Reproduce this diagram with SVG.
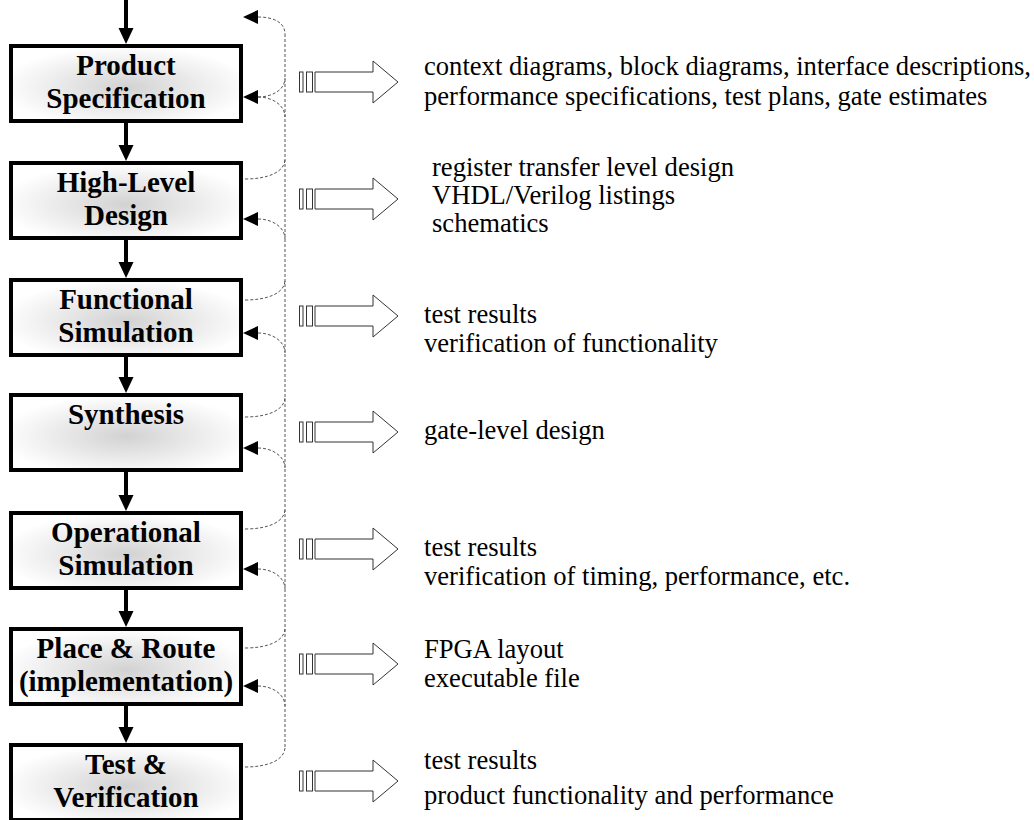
<svg xmlns="http://www.w3.org/2000/svg" width="1034" height="820" viewBox="0 0 1034 820">
<style>
.box{stroke:#000;stroke-width:4;fill:url(#shade)}
.lbl{font-family:"Liberation Serif","Times New Roman",serif;font-weight:bold;font-size:29px;text-anchor:middle;fill:#000}
.desc{font-family:"Liberation Serif","Times New Roman",serif;font-size:26.6px;fill:#000}
.flow{stroke:#000;stroke-width:4;fill:none}
.head{fill:#000}
.fb{stroke:#555;stroke-width:1;stroke-dasharray:3 2;fill:none}
.hollow{stroke:#333;stroke-width:1;fill:#fff}
</style>
<defs>
<radialGradient id="shade" cx="0.5" cy="0.55" r="0.55">
<stop offset="0" stop-color="#d2d2d2"/>
<stop offset="0.45" stop-color="#e6e6e6"/>
<stop offset="1" stop-color="#ffffff"/>
</radialGradient>
<g id="bigArrow">
<rect class="hollow" x="299.5" y="-10" width="3.5" height="20"/>
<rect class="hollow" x="306.5" y="-10" width="6" height="20"/>
<path class="hollow" d="M315,-10 H373 V-21 L398,0 L373,21 V10 H315 Z"/>
</g>
</defs>
<rect width="1034" height="820" fill="#fff"/>

<g id="connectors">
<line class="flow" x1="126" y1="0" x2="126" y2="32"/>
<polygon class="head" points="118.5,28 133.5,28 126,44"/>
<line class="flow" x1="126" y1="123" x2="126" y2="149"/>
<polygon class="head" points="118.5,145 133.5,145 126,161"/>
<line class="flow" x1="126" y1="240" x2="126" y2="266"/>
<polygon class="head" points="118.5,262 133.5,262 126,278"/>
<line class="flow" x1="126" y1="357" x2="126" y2="381"/>
<polygon class="head" points="118.5,377 133.5,377 126,393"/>
<line class="flow" x1="126" y1="472" x2="126" y2="499"/>
<polygon class="head" points="118.5,495 133.5,495 126,511"/>
<line class="flow" x1="126" y1="590" x2="126" y2="615"/>
<polygon class="head" points="118.5,611 133.5,611 126,627"/>
<line class="flow" x1="126" y1="706" x2="126" y2="731"/>
<polygon class="head" points="118.5,727 133.5,727 126,743"/>

<path class="fb" d="M285,34 V747"/>
<path class="fb" d="M258,17 C273,17 285,22 285,34"/>
<path class="fb" d="M258,97 C272,97 285,90 285,78"/>
<path class="fb" d="M258,97 C272,97 285,105 285,117"/>
<path class="fb" d="M245,179 C268,179 285,172 285,159"/>
<path class="fb" d="M258,219 C272,219 285,227 285,239"/>
<path class="fb" d="M245,300 C268,300 285,293 285,280"/>
<path class="fb" d="M258,333 C272,333 285,341 285,353"/>
<path class="fb" d="M245,417 C268,417 285,410 285,397"/>
<path class="fb" d="M258,448 C272,448 285,456 285,468"/>
<path class="fb" d="M245,529 C268,529 285,522 285,509"/>
<path class="fb" d="M258,569 C272,569 285,577 285,589"/>
<path class="fb" d="M245,648 C268,648 285,641 285,628"/>
<path class="fb" d="M258,686 C272,686 285,694 285,706"/>
<path class="fb" d="M245,767 C268,767 285,760 285,747"/>
<polygon class="head" points="243,17 258,10 258,24"/>
<polygon class="head" points="243,97 258,90 258,104"/>
<polygon class="head" points="243,219 258,212 258,226"/>
<polygon class="head" points="243,333 258,326 258,340"/>
<polygon class="head" points="243,448 258,441 258,455"/>
<polygon class="head" points="243,569 258,562 258,576"/>
<polygon class="head" points="243,686 258,679 258,693"/>

<use href="#bigArrow" y="82"/>
<use href="#bigArrow" y="199"/>
<use href="#bigArrow" y="316"/>
<use href="#bigArrow" y="432"/>
<use href="#bigArrow" y="549"/>
<use href="#bigArrow" y="664"/>
<use href="#bigArrow" y="781"/>
</g>

<g id="node-product-spec">
<rect class="box" x="11" y="46" width="230" height="75"/>
<text class="lbl" x="126" y="75">Product</text>
<text class="lbl" x="126" y="108">Specification</text>
</g>
<g id="node-high-level-design">
<rect class="box" x="11" y="163" width="230" height="75"/>
<text class="lbl" x="126" y="192">High-Level</text>
<text class="lbl" x="126" y="225">Design</text>
</g>
<g id="node-functional-simulation">
<rect class="box" x="11" y="280" width="230" height="75"/>
<text class="lbl" x="126" y="309">Functional</text>
<text class="lbl" x="126" y="342">Simulation</text>
</g>
<g id="node-synthesis">
<rect class="box" x="11" y="395" width="230" height="75"/>
<text class="lbl" x="126" y="424">Synthesis</text>
</g>
<g id="node-operational-simulation">
<rect class="box" x="11" y="513" width="230" height="75"/>
<text class="lbl" x="126" y="542">Operational</text>
<text class="lbl" x="126" y="575">Simulation</text>
</g>
<g id="node-place-route">
<rect class="box" x="11" y="629" width="230" height="75"/>
<text class="lbl" x="126" y="658">Place &amp; Route</text>
<text class="lbl" x="126" y="691">(implementation)</text>
</g>
<g id="node-test-verification">
<rect class="box" x="11" y="745" width="230" height="75"/>
<text class="lbl" x="126" y="774">Test &amp;</text>
<text class="lbl" x="126" y="807">Verification</text>
</g>

<g id="outputs">
<text class="desc" x="424" y="75">context diagrams, block diagrams, interface descriptions,</text>
<text class="desc" x="424" y="105">performance specifications, test plans, gate estimates</text>
<text class="desc" x="432" y="176">register transfer level design</text>
<text class="desc" x="432" y="204">VHDL/Verilog listings</text>
<text class="desc" x="432" y="232">schematics</text>
<text class="desc" x="424" y="323">test results</text>
<text class="desc" x="424" y="352">verification of functionality</text>
<text class="desc" x="424" y="439">gate-level design</text>
<text class="desc" x="424" y="556">test results</text>
<text class="desc" x="424" y="585">verification of timing, performance, etc.</text>
<text class="desc" x="424" y="658">FPGA layout</text>
<text class="desc" x="424" y="687">executable file</text>
<text class="desc" x="424" y="769">test results</text>
<text class="desc" x="424" y="804">product functionality and performance</text>
</g>
</svg>
